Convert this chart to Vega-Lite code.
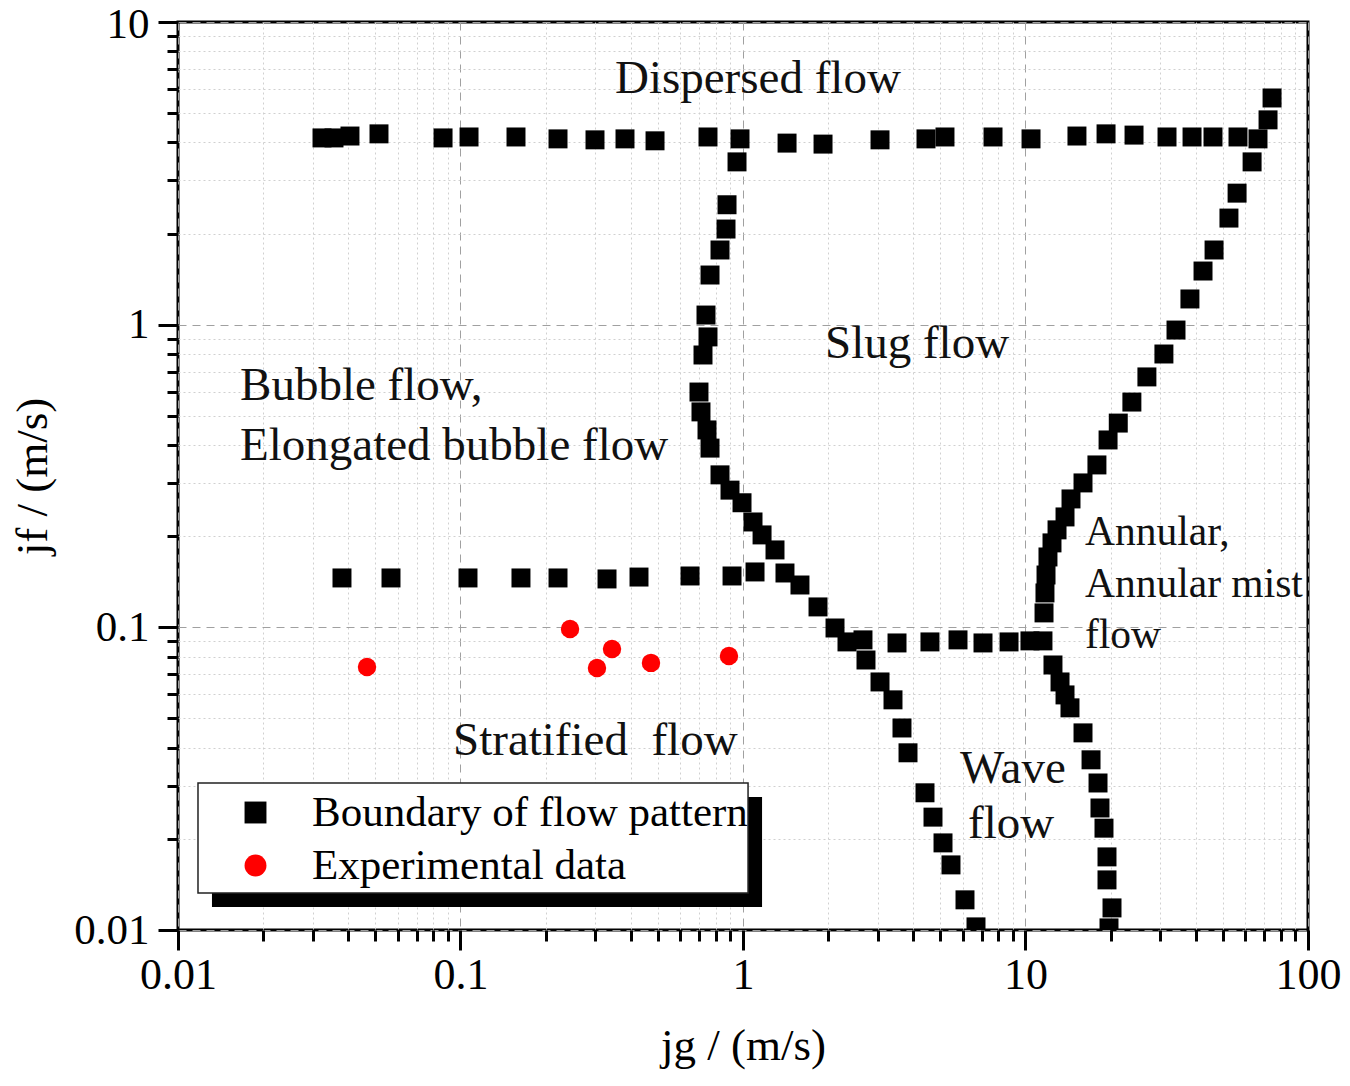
{
  "$schema": "https://vega.github.io/schema/vega-lite/v6.json",
  "width": 1130,
  "height": 908,
  "autosize": {"type": "none"},
  "padding": {"left": 178, "top": 22, "right": 42, "bottom": 156},
  "background": "white",
  "config": {
    "view": {"stroke": "#000000", "strokeWidth": 3},
    "font": "Liberation Serif",
    "legend": {
      "orient": "none",
      "legendX": 56,
      "legendY": 769,
      "padding": 0,
      "symbolSize": 480,
      "symbolStrokeWidth": 0,
      "labelFont": "Liberation Serif",
      "labelFontSize": 43,
      "labelColor": "#000000",
      "labelOffset": 35,
      "rowPadding": 9,
      "labelLimit": 1000
    }
  },
  "datasets": {
    "boundary": [
      {"jg": 0.03234, "jf": 4.14}, {"jg": 0.03566, "jf": 4.14}, {"jg": 0.04062, "jf": 4.20}, {"jg": 0.05146, "jf": 4.27},
      {"jg": 0.08674, "jf": 4.14}, {"jg": 0.1072, "jf": 4.17}, {"jg": 0.1572, "jf": 4.17}, {"jg": 0.2214, "jf": 4.11},
      {"jg": 0.2993, "jf": 4.08}, {"jg": 0.3822, "jf": 4.11}, {"jg": 0.4882, "jf": 4.05}, {"jg": 0.7518, "jf": 4.17},
      {"jg": 0.9759, "jf": 4.11}, {"jg": 1.432, "jf": 3.98}, {"jg": 1.920, "jf": 3.95}, {"jg": 3.055, "jf": 4.08},
      {"jg": 4.444, "jf": 4.11}, {"jg": 5.188, "jf": 4.17}, {"jg": 7.674, "jf": 4.17}, {"jg": 10.46, "jf": 4.11},
      {"jg": 15.21, "jf": 4.20}, {"jg": 19.28, "jf": 4.27}, {"jg": 24.22, "jf": 4.23}, {"jg": 31.69, "jf": 4.17},
      {"jg": 38.86, "jf": 4.17}, {"jg": 46.10, "jf": 4.17}, {"jg": 56.52, "jf": 4.17}, {"jg": 66.53, "jf": 4.11},
      {"jg": 74.6, "jf": 5.61}, {"jg": 72.2, "jf": 4.75}, {"jg": 63.4, "jf": 3.45}, {"jg": 56.1, "jf": 2.72},
      {"jg": 52.5, "jf": 2.25}, {"jg": 46.5, "jf": 1.765}, {"jg": 42.5, "jf": 1.504}, {"jg": 38.2, "jf": 1.216},
      {"jg": 34.1, "jf": 0.960}, {"jg": 30.9, "jf": 0.800}, {"jg": 26.9, "jf": 0.672}, {"jg": 23.8, "jf": 0.555},
      {"jg": 21.3, "jf": 0.473}, {"jg": 19.6, "jf": 0.416}, {"jg": 17.9, "jf": 0.344}, {"jg": 15.98, "jf": 0.300},
      {"jg": 14.49, "jf": 0.2656}, {"jg": 13.80, "jf": 0.2316}, {"jg": 12.93, "jf": 0.2099}, {"jg": 12.41, "jf": 0.1901},
      {"jg": 12.01, "jf": 0.1708}, {"jg": 11.82, "jf": 0.1489}, {"jg": 11.72, "jf": 0.1299}, {"jg": 11.63, "jf": 0.1116},
      {"jg": 11.53, "jf": 0.0902},
      {"jg": 12.51, "jf": 0.0751}, {"jg": 13.25, "jf": 0.0660}, {"jg": 13.80, "jf": 0.0598}, {"jg": 14.37, "jf": 0.0542},
      {"jg": 15.98, "jf": 0.0448}, {"jg": 17.06, "jf": 0.0365}, {"jg": 18.06, "jf": 0.0306}, {"jg": 18.35, "jf": 0.0253},
      {"jg": 18.96, "jf": 0.0217}, {"jg": 19.43, "jf": 0.01744}, {"jg": 19.43, "jf": 0.01464}, {"jg": 20.24, "jf": 0.01183},
      {"jg": 19.75, "jf": 0.01016},
      {"jg": 3.509, "jf": 0.0888}, {"jg": 4.590, "jf": 0.0895}, {"jg": 5.769, "jf": 0.0909}, {"jg": 7.072, "jf": 0.0888},
      {"jg": 8.744, "jf": 0.0895}, {"jg": 10.37, "jf": 0.0902},
      {"jg": 0.9524, "jf": 3.45}, {"jg": 0.8779, "jf": 2.49}, {"jg": 0.8707, "jf": 2.07}, {"jg": 0.8291, "jf": 1.765},
      {"jg": 0.7643, "jf": 1.459}, {"jg": 0.7396, "jf": 1.076}, {"jg": 0.7518, "jf": 0.911}, {"jg": 0.7218, "jf": 0.794},
      {"jg": 0.6985, "jf": 0.599}, {"jg": 0.7100, "jf": 0.515}, {"jg": 0.7457, "jf": 0.449}, {"jg": 0.7643, "jf": 0.391},
      {"jg": 0.8291, "jf": 0.319}, {"jg": 0.8995, "jf": 0.284}, {"jg": 0.9920, "jf": 0.258}, {"jg": 1.085, "jf": 0.2229},
      {"jg": 1.168, "jf": 0.2020}, {"jg": 1.298, "jf": 0.1802}, {"jg": 1.408, "jf": 0.1512}, {"jg": 1.591, "jf": 0.1380},
      {"jg": 1.843, "jf": 0.1168}, {"jg": 2.117, "jf": 0.0995}, {"jg": 2.334, "jf": 0.0895}, {"jg": 2.659, "jf": 0.0909},
      {"jg": 2.725, "jf": 0.0780}, {"jg": 3.055, "jf": 0.0660}, {"jg": 3.396, "jf": 0.0576}, {"jg": 3.654, "jf": 0.0465},
      {"jg": 3.838, "jf": 0.0385}, {"jg": 4.408, "jf": 0.0284}, {"jg": 4.705, "jf": 0.0236}, {"jg": 5.105, "jf": 0.0194},
      {"jg": 5.448, "jf": 0.01641}, {"jg": 6.107, "jf": 0.01258}, {"jg": 6.680, "jf": 0.01024},
      {"jg": 0.03806, "jf": 0.1456}, {"jg": 0.05675, "jf": 0.1456}, {"jg": 0.1063, "jf": 0.1456}, {"jg": 0.1637, "jf": 0.1456},
      {"jg": 0.2214, "jf": 0.1456}, {"jg": 0.3301, "jf": 0.1445}, {"jg": 0.4284, "jf": 0.1466}, {"jg": 0.6494, "jf": 0.1478},
      {"jg": 0.9145, "jf": 0.1478}, {"jg": 1.103, "jf": 0.1524}
    ],
    "experimental": [
      {"jg": 0.04667, "jf": 0.0740}, {"jg": 0.2442, "jf": 0.0988}, {"jg": 0.3438, "jf": 0.0848},
      {"jg": 0.3042, "jf": 0.0734}, {"jg": 0.4724, "jf": 0.0763}, {"jg": 0.8920, "jf": 0.0804}
    ],
    "regions": [
      {"label": "Dispersed flow", "jg": 0.3522, "jf": 5.83},
      {"label": "Slug flow", "jg": 1.951, "jf": 0.776},
      {"label": "Bubble flow,", "jg": 0.01658, "jf": 0.5639},
      {"label": "Elongated bubble flow", "jg": 0.01658, "jf": 0.357},
      {"label": "Stratified\u00a0 flow", "jg": 0.0941, "jf": 0.0379},
      {"label": "Wave", "jg": 5.863, "jf": 0.0306},
      {"label": "flow", "jg": 6.259, "jf": 0.02015}
    ],
    "annular": [
      {"label": "Annular,", "jg": 16.24, "jf": 0.1872},
      {"label": "Annular mist", "jg": 16.24, "jf": 0.1260},
      {"label": "flow", "jg": 16.24, "jf": 0.0855}
    ],
    "legendframe": [
      {"part": "shadow", "jg": 0.01319, "jg2": 1.168, "jf": 0.02753, "jf2": 0.01192},
      {"part": "box", "jg": 0.01177, "jg2": 1.042, "jf": 0.0306, "jf2": 0.01326}
    ]
  },
  "encoding": {
    "x": {
      "field": "jg",
      "type": "quantitative",
      "scale": {"type": "log", "domain": [0.01, 100], "nice": false},
      "axis": {
        "title": "jg / (m/s)",
        "values": [0.01,0.02,0.03,0.04,0.05,0.06,0.07,0.08,0.09,0.1,0.2,0.3,0.4,0.5,0.6,0.7,0.8,0.9,1,2,3,4,5,6,7,8,9,10,20,30,40,50,60,70,80,90,100],
        "format": "~g",
        "labelExpr": "abs(log(datum.value)/LN10 - round(log(datum.value)/LN10)) < 0.01 ? datum.label : ''",
        "labelFlush": false,
        "labelOverlap": false,
        "labelBound": false,
        "labelFont": "Liberation Serif",
        "labelFontSize": 44,
        "labelColor": "#000000",
        "labelPadding": 3,
        "domain": false,
        "tickColor": "#000000",
        "tickWidth": 3,
        "tickSize": {"condition": {"test": "abs(log(datum.value)/LN10 - round(log(datum.value)/LN10)) < 0.01", "value": 20}, "value": 11},
        "grid": true,
        "gridWidth": 1,
        "gridColor": {"condition": {"test": "abs(log(datum.value)/LN10 - round(log(datum.value)/LN10)) < 0.01", "value": "#a0a0a0"}, "value": "#d0d0d0"},
        "gridDash": {"condition": {"test": "abs(log(datum.value)/LN10 - round(log(datum.value)/LN10)) < 0.01", "value": [8, 6]}, "value": [2, 3]},
        "titleFont": "Liberation Serif",
        "titleFontSize": 45,
        "titleFontWeight": "normal",
        "titleColor": "#000000",
        "titlePadding": 26
      }
    },
    "y": {
      "field": "jf",
      "type": "quantitative",
      "scale": {"type": "log", "domain": [0.01, 10], "nice": false},
      "axis": {
        "title": "jf / (m/s)",
        "values": [0.01,0.02,0.03,0.04,0.05,0.06,0.07,0.08,0.09,0.1,0.2,0.3,0.4,0.5,0.6,0.7,0.8,0.9,1,2,3,4,5,6,7,8,9,10],
        "format": "~g",
        "labelExpr": "abs(log(datum.value)/LN10 - round(log(datum.value)/LN10)) < 0.01 ? datum.label : ''",
        "labelFlush": false,
        "labelOverlap": false,
        "labelBound": false,
        "labelFont": "Liberation Serif",
        "labelFontSize": 43,
        "labelColor": "#000000",
        "labelPadding": 9,
        "labelOffset": {"condition": {"test": "datum.value > 9.9", "value": 2}, "value": 0},
        "domain": false,
        "tickColor": "#000000",
        "tickWidth": 3,
        "tickSize": {"condition": {"test": "abs(log(datum.value)/LN10 - round(log(datum.value)/LN10)) < 0.01", "value": 20}, "value": 11},
        "grid": true,
        "gridWidth": 1,
        "gridColor": {"condition": {"test": "abs(log(datum.value)/LN10 - round(log(datum.value)/LN10)) < 0.01", "value": "#a0a0a0"}, "value": "#d0d0d0"},
        "gridDash": {"condition": {"test": "abs(log(datum.value)/LN10 - round(log(datum.value)/LN10)) < 0.01", "value": [8, 6]}, "value": [2, 3]},
        "titleFont": "Liberation Serif",
        "titleFontSize": 45,
        "titleFontWeight": "normal",
        "titleColor": "#000000",
        "titlePadding": 18
      }
    }
  },
  "layer": [
    {
      "data": {"name": "legendframe"},
      "transform": [{"filter": "datum.part === 'shadow'"}],
      "mark": {"type": "rect", "fill": "#000000", "clip": true},
      "encoding": {"x2": {"field": "jg2"}, "y2": {"field": "jf2"}}
    },
    {
      "data": {"name": "legendframe"},
      "transform": [{"filter": "datum.part === 'box'"}],
      "mark": {"type": "rect", "fill": "#ffffff", "stroke": "#222222", "strokeWidth": 1.5, "clip": true},
      "encoding": {"x2": {"field": "jg2"}, "y2": {"field": "jf2"}}
    },
    {
      "data": {"name": "boundary"},
      "mark": {"type": "point", "filled": true, "size": 360, "opacity": 1, "clip": true},
      "encoding": {
        "color": {"datum": "Boundary of flow pattern", "type": "nominal", "scale": {"domain": ["Boundary of flow pattern", "Experimental data"], "range": ["#000000", "#ff0000"]}, "legend": {"title": null}},
        "shape": {"datum": "Boundary of flow pattern", "type": "nominal", "scale": {"domain": ["Boundary of flow pattern", "Experimental data"], "range": ["square", "circle"]}, "legend": {"title": null}}
      }
    },
    {
      "data": {"name": "experimental"},
      "mark": {"type": "point", "filled": true, "size": 340, "opacity": 1, "clip": true},
      "encoding": {
        "color": {"datum": "Experimental data", "type": "nominal", "scale": {"domain": ["Boundary of flow pattern", "Experimental data"], "range": ["#000000", "#ff0000"]}, "legend": {"title": null}},
        "shape": {"datum": "Experimental data", "type": "nominal", "scale": {"domain": ["Boundary of flow pattern", "Experimental data"], "range": ["square", "circle"]}, "legend": {"title": null}}
      }
    },
    {
      "data": {"name": "regions"},
      "mark": {"type": "text", "align": "left", "baseline": "alphabetic", "font": "Liberation Serif", "fontSize": 47, "color": "#111111"},
      "encoding": {"text": {"field": "label"}}
    },
    {
      "data": {"name": "annular"},
      "mark": {"type": "text", "align": "left", "baseline": "alphabetic", "font": "Liberation Serif", "fontSize": 41.5, "color": "#111111"},
      "encoding": {"text": {"field": "label"}}
    }
  ]
}
